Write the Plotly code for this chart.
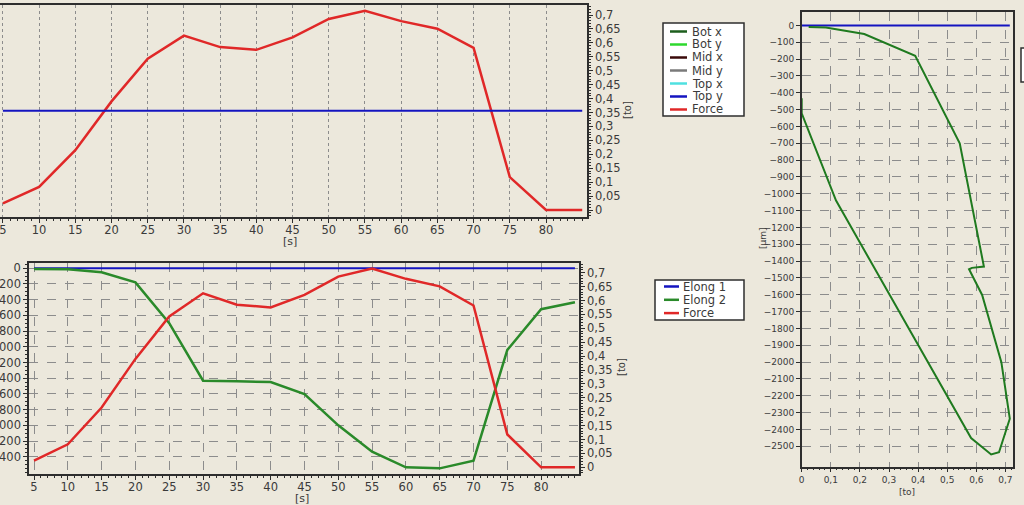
import plotly.graph_objects as go

# ---------------- data ----------------
time_s = [5, 10, 15, 20, 25, 30, 35, 40, 45, 50, 55, 60, 65, 70, 75, 80, 85]
force_to = [0.024, 0.083, 0.215, 0.39, 0.543, 0.626, 0.585, 0.575, 0.62, 0.686,
            0.715, 0.678, 0.651, 0.582, 0.118, 0.0, 0.0]
elong1_um = [0, 0, 0, 0, 0, 0, 0, 0, 0, 0, 0, 0, 0, 0, 0, 0, 0]
elong2_um = [-10, -13, -51, -180, -700, -1432, -1440, -1448, -1601, -2000,
             -2336, -2535, -2548, -2451, -1040, -522, -433]

top_legend_names = ["Bot x", "Bot y", "Mid x", "Mid y", "Top x", "Top y", "Force"]
top_legend_colors = ["#1d5e1d", "#2ed82e", "#3a0a0a", "#7a7a7a", "#4fe0e0", "#1414c0", "#e02828"]
bottom_legend_names = ["Elong 1", "Elong 2", "Force"]
bottom_legend_colors = ["#1414c0", "#2a8a2a", "#e02828"]

time_ticks = [5, 10, 15, 20, 25, 30, 35, 40, 45, 50, 55, 60, 65, 70, 75, 80]
force_ticks = [0, 0.05, 0.1, 0.15, 0.2, 0.25, 0.3, 0.35, 0.4, 0.45, 0.5, 0.55, 0.6, 0.65, 0.7]
force_tick_text = ["0", "0,05", "0,1", "0,15", "0,2", "0,25", "0,3", "0,35", "0,4",
                   "0,45", "0,5", "0,55", "0,6", "0,65", "0,7"]
elong_ticks_200 = [0, -200, -400, -600, -800, -1000, -1200, -1400, -1600, -1800,
                   -2000, -2200, -2400]
elong_ticks_100 = [0, -100, -200, -300, -400, -500, -600, -700, -800, -900, -1000,
                   -1100, -1200, -1300, -1400, -1500, -1600, -1700, -1800, -1900,
                   -2000, -2100, -2200, -2300, -2400, -2500]
xy_force_ticks = [0, 0.1, 0.2, 0.3, 0.4, 0.5, 0.6, 0.7]
xy_force_text = ["0", "0,1", "0,2", "0,3", "0,4", "0,5", "0,6", "0,7"]

# ---------------- style ----------------
W, H = 1024, 505
BG = "#ece8dc"
FRAME = "#2e2e2e"
GRID = "#8c8c8c"
TXT = "#3a3a3a"
FONT = "DejaVu Sans"
RED = "#e02828"
BLUE = "#1414c0"
GREEN = "#2a8a2a"
GREEN_DARK = "#1f7a1f"


def px(x):
    return x / W


def py(y):
    return 1 - y / H


fig = go.Figure()

# top panel: Force (right axis) and Top y (hidden axis)
fig.add_trace(go.Scatter(x=time_s, y=elong1_um, mode="lines", name="Top y",
                         line=dict(color=BLUE, width=2), xaxis="x", yaxis="y5"))
fig.add_trace(go.Scatter(x=time_s, y=force_to, mode="lines", name="Force",
                         line=dict(color=RED, width=2.5), xaxis="x", yaxis="y"))

# bottom panel
fig.add_trace(go.Scatter(x=time_s, y=elong1_um, mode="lines", name="Elong 1",
                         line=dict(color=BLUE, width=2), xaxis="x2", yaxis="y2"))
fig.add_trace(go.Scatter(x=time_s, y=elong2_um, mode="lines", name="Elong 2",
                         line=dict(color=GREEN, width=2.5), xaxis="x2", yaxis="y2"))
fig.add_trace(go.Scatter(x=time_s, y=force_to, mode="lines", name="Force",
                         line=dict(color=RED, width=2.5), xaxis="x2", yaxis="y3"))

# right panel: elongation vs force
fig.add_trace(go.Scatter(x=force_to, y=elong1_um, mode="lines", name="Elong 1",
                         line=dict(color=BLUE, width=2), xaxis="x3", yaxis="y4"))
fig.add_trace(go.Scatter(x=force_to, y=elong2_um, mode="lines", name="Elong 2",
                         line=dict(color=GREEN_DARK, width=2), xaxis="x3", yaxis="y4"))

tickfont = dict(family=FONT, size=11.5, color=TXT)
small_tickfont = dict(family=FONT, size=9, color=TXT)

common = dict(showline=True, linecolor=FRAME, linewidth=1.5, zeroline=False,
              ticks="outside", tickcolor=FRAME, ticklen=4, automargin=False,
              fixedrange=True, ticklabeloverflow="allow")

fig.update_layout(
    width=W, height=H, template="none",
    margin=dict(l=0, r=0, t=0, b=0),
    paper_bgcolor=BG, plot_bgcolor=BG,
    showlegend=False,
    font=dict(family=FONT, color=TXT),
    xaxis=dict(domain=[0, px(587)], range=[4.6, 85.66], anchor="y",
               tickvals=time_ticks, tickfont=tickfont, mirror=True,
               ticklabelstandoff=-3,
               showgrid=True, gridcolor=GRID, griddash="dot", gridwidth=1.2,
               minor=dict(dtick=1, tick0=0, ticklen=2, ticks="outside",
                          tickcolor=FRAME, showgrid=False), **common),
    yaxis=dict(domain=[py(217), py(5)], range=[-0.025, 0.736], anchor="x",
               side="right", tickvals=force_ticks, ticktext=force_tick_text,
               tickfont=tickfont, showgrid=False,
               minor=dict(dtick=0.01, tick0=0, ticklen=2, ticks="outside",
                          tickcolor=FRAME, showgrid=False), **common),
    yaxis5=dict(overlaying="y", range=[-1000, 995], visible=False,
                anchor="x", fixedrange=True),
    xaxis2=dict(domain=[px(29), px(579)], range=[4.26, 85.6], anchor="y2",
                tickvals=time_ticks, tickfont=tickfont, mirror=True,
                ticklabelstandoff=-3,
                showgrid=True, gridcolor=GRID, griddash="dash", gridwidth=1.2,
                minor=dict(dtick=1, tick0=0, ticklen=2, ticks="outside",
                           tickcolor=FRAME, showgrid=False), **common),
    yaxis2=dict(domain=[py(474), py(262.7)], range=[-2620, 71], anchor="x2",
                side="left", tickvals=elong_ticks_200, tickfont=tickfont,
                showgrid=True, gridcolor=GRID, griddash="dash", gridwidth=1.2,
                minor=dict(dtick=50, tick0=0, ticklen=2, ticks="outside",
                           tickcolor=FRAME, showgrid=False), **common),
    yaxis3=dict(overlaying="y2", range=[-0.024, 0.736], anchor="x2",
                side="right", tickvals=force_ticks, ticktext=force_tick_text,
                tickfont=tickfont, showgrid=False,
                minor=dict(dtick=0.01, tick0=0, ticklen=2, ticks="outside",
                           tickcolor=FRAME, showgrid=False), **common),
    xaxis3=dict(domain=[px(801.7), px(1012.7)], range=[0, 0.725], anchor="y4",
                tickvals=xy_force_ticks, ticktext=xy_force_text,
                tickfont=small_tickfont, mirror=True,
                showgrid=True, gridcolor=GRID, griddash="dash", gridwidth=1,
                minor=dict(dtick=0.02, tick0=0, ticklen=2, ticks="outside",
                           tickcolor=FRAME, showgrid=False), **common),
    yaxis4=dict(domain=[py(466.7), py(12.3)], range=[-2621, 78], anchor="x3",
                side="left", tickvals=elong_ticks_100, tickfont=small_tickfont,
                mirror=True, showgrid=True, gridcolor=GRID, griddash="dash",
                gridwidth=1, **common),
)

annotations = []
shapes = []


def add_text(x, y, text, size=11, angle=0, xanchor="center"):
    annotations.append(dict(x=px(x), y=py(y), xref="paper", yref="paper",
                            text=text, showarrow=False, textangle=angle,
                            xanchor=xanchor, yanchor="middle",
                            font=dict(family=FONT, size=size, color=TXT)))


# axis titles
add_text(290, 241, "[s]")
add_text(302, 498, "[s]")
add_text(628, 110, "[to]", size=10, angle=-90)
add_text(621, 367, "[to]", size=10, angle=-90)
add_text(763, 238, "[µm]", size=9, angle=-90)
add_text(907, 492, "[to]", size=9)


def legend_box(x0, y0, x1, y1, names, colors, first_y, pitch, lx0, lx1, tx):
    shapes.append(dict(type="rect", xref="paper", yref="paper",
                       x0=px(x0), x1=px(x1), y0=py(y1), y1=py(y0),
                       fillcolor="white", line=dict(color=FRAME, width=1.5)))
    for i, (n, c) in enumerate(zip(names, colors)):
        yy = first_y + i * pitch
        shapes.append(dict(type="line", xref="paper", yref="paper",
                           x0=px(lx0), x1=px(lx1), y0=py(yy), y1=py(yy),
                           line=dict(color=c, width=2.5)))
        add_text(tx, yy, n, size=11.5, xanchor="left")


legend_box(663, 23, 744, 116, top_legend_names, top_legend_colors,
           31.5, 13, 670, 687, 690)
legend_box(655, 280, 744, 320, bottom_legend_names, bottom_legend_colors,
           286.5, 13.3, 664, 679, 681)

# partial box of a further legend at the right edge
shapes.append(dict(type="rect", xref="paper", yref="paper",
                   x0=px(1021), x1=px(1040), y0=py(82), y1=py(48),
                   fillcolor="white", line=dict(color=FRAME, width=1.5)))

fig.update_layout(annotations=annotations, shapes=shapes)

fig.write_html("out.html", config=dict(displayModeBar=False))
